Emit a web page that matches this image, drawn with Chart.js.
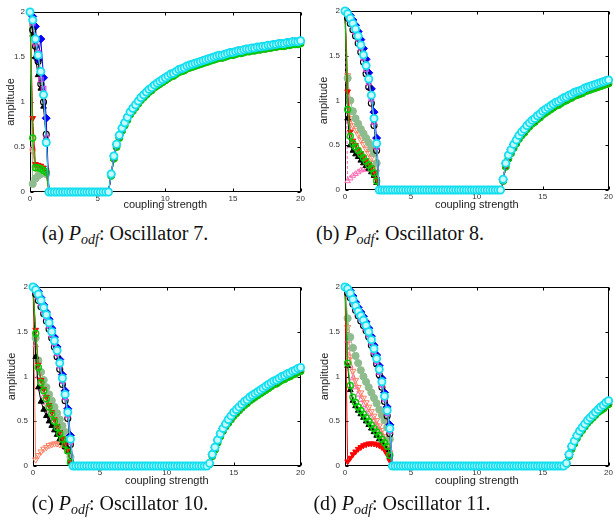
<!DOCTYPE html>
<html><head><meta charset="utf-8">
<script src="https://cdn.jsdelivr.net/npm/chart.js@4.4.1/dist/chart.umd.min.js"></script>
<style>
html,body{margin:0;padding:0;background:#fff;}
body{width:615px;height:526px;position:relative;overflow:hidden;}
canvas{position:absolute;}
.cap{position:absolute;width:240px;font-family:"Liberation Serif","Times New Roman",serif;font-size:20px;color:#111;text-align:center;white-space:nowrap;line-height:22px;}
.cap sub{font-size:14px;vertical-align:-4px;line-height:0;}
</style></head><body>
<canvas id="ca" width="307" height="215" style="left:0;top:0"></canvas>
<canvas id="cb" width="308" height="215" style="left:307px;top:0"></canvas>
<canvas id="cc" width="307" height="266" style="left:0;top:260px"></canvas>
<canvas id="cd" width="308" height="266" style="left:307px;top:260px"></canvas>
<div class="cap" style="left:5px;top:222px">(a) <i>P</i><sub><i>odf</i></sub>: Oscillator 7.</div>
<div class="cap" style="left:280px;top:222px">(b) <i>P</i><sub><i>odf</i></sub>: Oscillator 8.</div>
<div class="cap" style="left:0px;top:492px">(c) <i>P</i><sub><i>odf</i></sub>: Oscillator 10.</div>
<div class="cap" style="left:282px;top:492px">(d) <i>P</i><sub><i>odf</i></sub>: Oscillator 11.</div>
<script>
// ---------- shared coupling strength grid ----------
const couplingStrength = [
0,0.2,0.4,0.6,0.8,1,1.2,1.4,1.6,1.8,
2,2.2,2.4,2.6,2.8,3,3.2,3.4,3.6,3.8,
4,4.2,4.4,4.6,4.8,5,5.2,5.4,5.6,5.8,
6,6.2,6.4,6.6,6.8,7,7.2,7.4,7.6,7.8,
8,8.2,8.4,8.6,8.8,9,9.2,9.4,9.6,9.8,
10,10.2,10.4,10.6,10.8,11,11.2,11.4,11.6,11.8,
12,12.2,12.4,12.6,12.8,13,13.2,13.4,13.6,13.8,
14,14.2,14.4,14.6,14.8,15,15.2,15.4,15.6,15.8,
16,16.2,16.4,16.6,16.8,17,17.2,17.4,17.6,17.8,
18,18.2,18.4,18.6,18.8,19,19.2,19.4,19.6,19.8,
20];
const xTickValues = [0,5,10,15,20];
const yTickValues = [0,0.5,1,1.5,2];

// ---------- panel (a) Oscillator 7 ----------
const fallA_cyan     = [2.0,1.91,1.7,1.52,1.34,1.08,0.55];
const fallA_magenta  = [2.0,1.88,1.65,1.55,1.25,1.15,0.6];
const fallA_blackO   = [2.0,1.8,1.62,1.45,1.2,1.0,0.64];
const fallA_blue     = [2.0,1.95,1.84,1.47,1.7,1.27,0.82];
const fallA_green    = [2.0,0.6,0.27,0.27,0.26,0.24,0.22];
const fallA_red      = [2.0,0.82,0.31,0.3,0.29,0.27,0.24];
const fallA_blackTri = [2.0,1.75,1.5,1.3,1.15,0.95,0.6];
const fallA_seagreen = [2.0,0.09,0.15,0.18,0.2,0.21,0.2];
const fallA_salmon   = [2.0,0.45,0.26,0.25,0.25,0.23,0.2];
const fallA_pink     = [2.0,0.5,0.29,0.28,0.27,0.25,0.22];
const zerosA = [0,0,0,0,0,0,0,0,0,0, 0,0,0,0,0,0,0,0,0,0, 0,0,0];
const riseA_hi = [
0.2,0.4,0.53,0.63,0.71,0.77,0.83,0.89,0.93,0.97,
1.01,1.05,1.08,1.11,1.14,1.16,1.19,1.21,1.23,1.25,
1.27,1.29,1.31,1.32,1.34,1.36,1.37,1.38,1.4,1.41,
1.42,1.43,1.44,1.45,1.46,1.47,1.48,1.49,1.5,1.51,
1.52,1.52,1.53,1.54,1.55,1.55,1.56,1.57,1.57,1.58,
1.59,1.59,1.6,1.6,1.61,1.61,1.62,1.62,1.63,1.63,
1.64,1.64,1.65,1.65,1.65,1.66,1.66,1.67,1.67,1.67,
1.68];
const riseA_lo = [
0.18,0.37,0.5,0.6,0.68,0.74,0.8,0.86,0.9,0.94,
0.98,1.02,1.05,1.08,1.11,1.13,1.16,1.18,1.2,1.22,
1.24,1.26,1.28,1.29,1.31,1.33,1.34,1.35,1.37,1.38,
1.39,1.4,1.41,1.42,1.43,1.44,1.45,1.46,1.47,1.48,
1.49,1.49,1.5,1.51,1.52,1.52,1.53,1.54,1.54,1.55,
1.56,1.56,1.57,1.57,1.58,1.58,1.59,1.59,1.6,1.6,
1.61,1.61,1.62,1.62,1.62,1.63,1.63,1.64,1.64,1.64,
1.65];

// ---------- panel (b) Oscillator 8 ----------
const fallB_cyan     = [2.0,1.97,1.92,1.86,1.8,1.72,1.62,1.51,1.39,1.24,1.06,0.8,0.52];
const fallB_magenta  = [2.0,1.96,1.9,1.84,1.77,1.69,1.59,1.48,1.35,1.2,1.02,0.76,0.48];
const fallB_blackO   = [2.0,1.92,1.86,1.79,1.72,1.64,1.54,1.43,1.3,1.15,0.97,0.72,0.44];
const fallB_blue     = [2.0,1.99,1.95,1.9,1.84,1.77,1.68,1.58,1.46,1.31,1.13,0.87,0.58];
const fallB_green    = [2.0,0.9,0.6,0.52,0.48,0.44,0.4,0.36,0.32,0.28,0.24,0.19,0.1];
const fallB_red      = [2.0,1.1,0.65,0.55,0.5,0.45,0.41,0.37,0.33,0.29,0.25,0.2,0.12];
const fallB_blackTri = [2.0,0.8,0.5,0.44,0.4,0.37,0.33,0.3,0.27,0.24,0.2,0.16,0.08];
const fallB_seagreen = [2.0,1.25,1.0,0.88,0.8,0.74,0.68,0.63,0.58,0.53,0.47,0.41,0.3];
const fallB_salmon   = [2.0,1.28,0.8,0.72,0.67,0.62,0.56,0.51,0.46,0.41,0.36,0.3,0.2];
const fallB_pink     = [2.0,0.1,0.13,0.16,0.18,0.2,0.22,0.23,0.23,0.23,0.22,0.2,0.15];
const zerosB = [0,0,0,0,0,0,0,0,0,0, 0,0,0,0,0,0,0,0,0,0, 0,0,0,0,0,0,0,0,0,0, 0,0,0,0,0,0,0,0,0,0, 0,0,0,0,0,0,0];
const riseB_hi = [
0.12,0.3,0.39,0.45,0.51,0.56,0.61,0.65,0.68,0.72,
0.75,0.78,0.8,0.83,0.85,0.88,0.9,0.92,0.94,0.96,
0.98,0.99,1.01,1.03,1.04,1.06,1.07,1.09,1.1,1.11,
1.12,1.14,1.15,1.16,1.17,1.18,1.19,1.2,1.21,1.22,
1.23];
const riseB_lo = [
0.1,0.26,0.35,0.41,0.47,0.52,0.57,0.61,0.64,0.68,
0.71,0.74,0.76,0.79,0.81,0.84,0.86,0.88,0.9,0.92,
0.94,0.95,0.97,0.99,1.0,1.02,1.03,1.05,1.06,1.07,
1.08,1.1,1.11,1.12,1.13,1.14,1.15,1.16,1.17,1.18,
1.19];

// ---------- panel (c) Oscillator 10 ----------
const fallC_cyan     = [2.0,1.97,1.92,1.85,1.77,1.69,1.6,1.5,1.4,1.29,1.15,0.98,0.8,0.6,0.3];
const fallC_magenta  = [2.0,1.95,1.89,1.82,1.74,1.66,1.57,1.47,1.37,1.26,1.12,0.95,0.77,0.57,0.27];
const fallC_blackO   = [2.0,1.92,1.85,1.78,1.7,1.62,1.53,1.43,1.33,1.22,1.08,0.91,0.73,0.53,0.24];
const fallC_blue     = [2.0,1.99,1.95,1.88,1.8,1.72,1.64,1.54,1.44,1.33,1.19,1.02,0.84,0.64,0.34];
const fallC_green    = [2.0,1.48,1.1,0.93,0.84,0.75,0.66,0.58,0.5,0.43,0.36,0.3,0.24,0.17,0.04];
const fallC_red      = [2.0,1.52,1.13,0.96,0.86,0.77,0.68,0.6,0.52,0.45,0.38,0.31,0.25,0.18,0.05];
const fallC_blackTri = [2.0,1.22,0.88,0.72,0.63,0.56,0.5,0.45,0.4,0.35,0.3,0.26,0.21,0.16,0.05];
const fallC_seagreen = [2.0,1.43,1.18,1.05,0.96,0.88,0.8,0.73,0.66,0.59,0.52,0.45,0.38,0.3,0.1];
const fallC_salmon   = [2.0,0.07,0.12,0.16,0.19,0.21,0.23,0.24,0.25,0.25,0.24,0.23,0.2,0.15,0.04];
const fallC_pink     = [2.0,1.35,1.0,0.86,0.78,0.7,0.62,0.55,0.48,0.41,0.35,0.29,0.23,0.17,0.05];
const zerosC = [0,0,0,0,0,0,0,0,0,0, 0,0,0,0,0,0,0,0,0,0, 0,0,0,0,0,0,0,0,0,0, 0,0,0,0,0,0,0,0,0,0, 0,0,0,0,0,0,0,0,0,0, 0];
const riseC_hi = [
0.03,0.13,0.21,0.29,0.36,0.42,0.47,0.52,0.56,0.6,
0.63,0.66,0.69,0.72,0.74,0.77,0.79,0.81,0.83,0.85,
0.87,0.89,0.91,0.93,0.95,0.96,0.98,1.0,1.01,1.03,
1.04,1.06,1.07,1.09,1.1];
const riseC_lo = [
0.02,0.11,0.18,0.26,0.33,0.39,0.44,0.48,0.52,0.56,
0.59,0.62,0.65,0.68,0.7,0.73,0.75,0.77,0.79,0.81,
0.83,0.85,0.87,0.89,0.91,0.92,0.94,0.96,0.97,0.99,
1.0,1.02,1.03,1.05,1.06];

// ---------- panel (d) Oscillator 11 ----------
const fallD_cyan     = [2.0,1.98,1.93,1.86,1.79,1.73,1.68,1.63,1.57,1.5,1.41,1.31,1.2,1.08,0.94,0.78,0.62,0.42];
const fallD_magenta  = [2.0,1.96,1.91,1.84,1.77,1.71,1.65,1.6,1.54,1.47,1.38,1.28,1.17,1.05,0.91,0.75,0.59,0.39];
const fallD_blackO   = [2.0,1.93,1.88,1.81,1.74,1.68,1.62,1.57,1.51,1.44,1.35,1.25,1.14,1.02,0.88,0.72,0.56,0.36];
const fallD_blue     = [2.0,1.99,1.96,1.9,1.83,1.77,1.72,1.67,1.61,1.54,1.45,1.35,1.24,1.12,0.98,0.82,0.66,0.46];
const fallD_green    = [2.0,1.15,0.9,0.77,0.71,0.66,0.62,0.58,0.54,0.5,0.46,0.42,0.38,0.34,0.3,0.26,0.22,0.12];
const fallD_red      = [2.0,0.05,0.09,0.13,0.16,0.19,0.21,0.23,0.24,0.25,0.25,0.25,0.24,0.23,0.21,0.18,0.13,0.06];
const fallD_blackTri = [2.0,1.12,0.85,0.73,0.67,0.62,0.58,0.54,0.5,0.46,0.42,0.38,0.34,0.3,0.26,0.22,0.18,0.1];
const fallD_seagreen = [2.0,1.65,1.44,1.32,1.23,1.15,1.07,1.0,0.94,0.88,0.82,0.76,0.7,0.63,0.57,0.51,0.43,0.3];
const fallD_salmon   = [2.0,1.55,1.22,1.06,0.96,0.88,0.82,0.76,0.71,0.66,0.61,0.56,0.51,0.45,0.4,0.33,0.26,0.15];
const fallD_pink     = [2.0,1.4,1.12,0.98,0.88,0.8,0.74,0.68,0.63,0.58,0.54,0.5,0.45,0.4,0.35,0.3,0.23,0.12];
const zerosD = [0,0,0,0,0,0,0,0,0,0, 0,0,0,0,0,0,0,0,0,0, 0,0,0,0,0,0,0,0,0,0, 0,0,0,0,0,0,0,0,0,0, 0,0,0,0,0,0,0,0,0,0, 0,0,0,0,0,0,0,0,0,0, 0,0,0,0,0,0];
const riseD_hi = [0.03,0.13,0.22,0.28,0.34,0.39,0.43,0.47,0.51,0.54,0.57,0.6,0.63,0.66,0.68,0.71,0.73];
const riseD_lo = [0.02,0.11,0.19,0.25,0.31,0.36,0.4,0.44,0.48,0.51,0.54,0.57,0.6,0.62,0.64,0.67,0.69];

// ---------- styles ----------
const FONT = "'Liberation Sans', Arial, Helvetica, sans-serif";
const NONE = 'rgba(0,0,0,0)';
const SERIES = [
  {key:'cyan',     line:'#14dff0', fill:'#c8fbff', shape:'circle',   r:3.6, bw:1.8, rot:0,   rise:'hi'},
  {key:'magenta',  line:'#e040e0', fill:NONE,      shape:'rect',     r:3.2, bw:1.2, rot:0,   rise:'hi'},
  {key:'blackO',   line:'#000000', fill:NONE,      shape:'circle',   r:3.0, bw:1.1, rot:0,   rise:'hi'},
  {key:'blue',     line:'#0000ff', fill:'#0000ff', shape:'rectRot',  r:4.0, bw:1,   rot:0,   rise:'hi'},
  {key:'green',    line:'#00cc00', fill:NONE,      shape:'circle',   r:3.0, bw:1.4, rot:0,   rise:'lo'},
  {key:'red',      line:'#ff0000', fill:'#ff0000', shape:'triangle', r:3.3, bw:1,   rot:180, rise:'lo'},
  {key:'blackTri', line:'#000000', fill:'#000000', shape:'triangle', r:3.3, bw:1,   rot:0,   rise:'lo'},
  {key:'seagreen', line:'#8fbc8f', fill:'#8fbc8f', shape:'circle',   r:3.6, bw:1,   rot:0,   rise:'lo'},
  {key:'salmon',   line:'#ff7f61', fill:NONE,      shape:'triangle', r:3.5, bw:1,   rot:180, rise:'lo'},
  {key:'pink',     line:'#ff69b4', fill:NONE,      shape:'triangle', r:3.2, bw:1,   rot:0,   rise:'lo', dash:[3,2]}
];

const framePlugin = {
  id:'frame',
  beforeDatasetsDraw(chart){
    const {ctx, chartArea:a, scales:{x, y}} = chart;
    ctx.save();
    ctx.strokeStyle = '#000'; ctx.lineWidth = 1;
    const L = Math.round(a.left)+0.5, R = Math.round(a.right)-0.5, T = Math.round(a.top)+0.5, B = Math.round(a.bottom)-0.5;
    ctx.strokeRect(L, T, R-L, B-T);
    ctx.beginPath();
    x.ticks.forEach(t => {
      const p = Math.round(x.getPixelForValue(t.value))+0.5;
      ctx.moveTo(p, B); ctx.lineTo(p, B-3);
      ctx.moveTo(p, T); ctx.lineTo(p, T+3);
    });
    y.ticks.forEach(t => {
      const p = Math.round(y.getPixelForValue(t.value))+0.5;
      ctx.moveTo(L, p); ctx.lineTo(L+3, p);
      ctx.moveTo(R, p); ctx.lineTo(R-3, p);
    });
    ctx.stroke();
    ctx.restore();
  }
};

function makePanel(id, falls, zeros, riseHi, riseLo, g){
  const datasets = SERIES.map(s => {
    const ys = falls[s.key].concat(zeros, s.rise === 'hi' ? riseHi : riseLo);
    return {
      data: ys.map((v, i) => ({x: couplingStrength[i], y: v})),
      showLine: true, clip: false,
      borderColor: s.line, borderWidth: 1, borderDash: s.dash || [],
      backgroundColor: s.fill,
      pointStyle: s.shape, pointRadius: s.r, pointRotation: s.rot,
      pointBorderColor: s.line, pointBackgroundColor: s.fill, pointBorderWidth: s.bw,
      tension: 0
    };
  });
  new Chart(document.getElementById(id), {
    type: 'scatter',
    data: {datasets},
    plugins: [framePlugin],
    options: {
      responsive: false, animation: false, devicePixelRatio: 1,
      layout: {padding: {left: g.pl, right: g.pr, top: g.pt, bottom: g.pb}},
      plugins: {legend: {display: false}, tooltip: {enabled: false}},
      scales: {
        x: {
          type: 'linear', min: 0, max: 20,
          grid: {display: false, drawTicks: false}, border: {display: false},
          afterBuildTicks: sc => { sc.ticks = xTickValues.map(v => ({value: v})); },
          ticks: {padding: 2, maxRotation: 0, autoSkip: false, color: '#333', font: {family: FONT, size: 8},
                  callback: v => String(v)},
          title: {display: true, text: 'coupling strength', color: '#222', padding: 0, font: {family: FONT, size: 11}},
          afterFit: sc => { sc.height = g.xh; }
        },
        y: {
          type: 'linear', min: 0, max: 2,
          grid: {display: false, drawTicks: false}, border: {display: false},
          afterBuildTicks: sc => { sc.ticks = yTickValues.map(v => ({value: v})); },
          ticks: {padding: 5, autoSkip: false, color: '#333', font: {family: FONT, size: 8},
                  callback: v => String(v)},
          title: {display: true, text: 'amplitude', color: '#222', padding: 0, font: {family: FONT, size: 11}},
          afterFit: sc => { sc.width = g.yw; }
        }
      }
    }
  });
}

makePanel('ca',
  {cyan:fallA_cyan, magenta:fallA_magenta, blackO:fallA_blackO, blue:fallA_blue, green:fallA_green, red:fallA_red, blackTri:fallA_blackTri, seagreen:fallA_seagreen, salmon:fallA_salmon, pink:fallA_pink},
  zerosA, riseA_hi, riseA_lo, {pl:4, yw:26, pr:5, pt:12, pb:3, xh:20});
makePanel('cb',
  {cyan:fallB_cyan, magenta:fallB_magenta, blackO:fallB_blackO, blue:fallB_blue, green:fallB_green, red:fallB_red, blackTri:fallB_blackTri, seagreen:fallB_seagreen, salmon:fallB_salmon, pink:fallB_pink},
  zerosB, riseB_hi, riseB_lo, {pl:10, yw:28, pr:4, pt:11, pb:3, xh:22});
makePanel('cc',
  {cyan:fallC_cyan, magenta:fallC_magenta, blackO:fallC_blackO, blue:fallC_blue, green:fallC_green, red:fallC_red, blackTri:fallC_blackTri, seagreen:fallC_seagreen, salmon:fallC_salmon, pink:fallC_pink},
  zerosC, riseC_hi, riseC_lo, {pl:5, yw:28, pr:6, pt:27, pb:38, xh:22});
makePanel('cd',
  {cyan:fallD_cyan, magenta:fallD_magenta, blackO:fallD_blackO, blue:fallD_blue, green:fallD_green, red:fallD_red, blackTri:fallD_blackTri, seagreen:fallD_seagreen, salmon:fallD_salmon, pink:fallD_pink},
  zerosD, riseD_hi, riseD_lo, {pl:11, yw:27, pr:4, pt:27, pb:38, xh:22});
</script>
</body></html>
